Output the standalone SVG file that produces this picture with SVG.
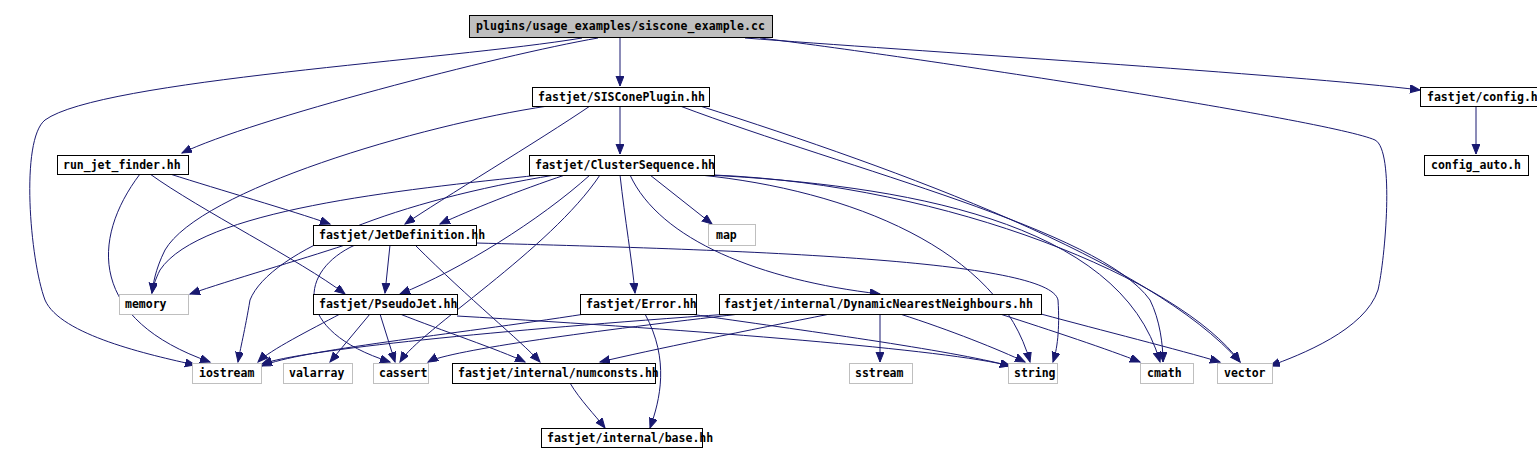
<svg xmlns="http://www.w3.org/2000/svg" width="1537" height="470" viewBox="0 0 1537 470">
<style>
.n rect{fill:#fff;stroke:#000;stroke-width:1}
.x rect{fill:#fff;stroke:#bfbfbf;stroke-width:1}
.root rect{fill:#bfbfbf;stroke:#000;stroke-width:1}
text{font-family:"DejaVu Sans Mono","Liberation Mono",monospace;font-weight:bold;font-size:11.5px;fill:#000}
#edges path{fill:none;stroke:#191970;stroke-width:1;marker-end:url(#ah)}
</style>
<defs>
<marker id="ah" markerUnits="userSpaceOnUse" markerWidth="12" markerHeight="10" refX="10" refY="4" orient="auto">
<path d="M0,0 L10,4 L0,8 Z" fill="#191970" stroke="#191970"/>
</marker>
</defs>
<rect width="1537" height="470" fill="#fff"/>
<g id="edges">
<path d="M582,38 C450,60 100,80 45,120 C20,140 30,260 45,300 C60,335 150,355 195,365"/>
<path d="M598,38 C500,55 250,120 182,153"/>
<path d="M620,38 L620,86"/>
<path d="M745,38 C900,50 1300,75 1420,90"/>
<path d="M760,38 C900,55 1330,120 1375,140 C1395,150 1385,260 1378,290 C1365,330 1300,355 1270,366"/>
<path d="M548,106 C420,125 200,190 165,250 C155,270 153,285 152,293"/>
<path d="M620,106 L620,154"/>
<path d="M590,106 C540,140 440,200 405,224"/>
<path d="M680,106 C850,170 1100,230 1150,300 C1160,320 1163,345 1163,362"/>
<path d="M700,106 C900,170 1150,260 1240,362"/>
<path d="M540,175 C400,190 200,210 160,270 C155,280 153,287 152,293"/>
<path d="M555,175 C400,200 270,250 250,300 C245,330 240,350 238,362"/>
<path d="M565,175 C520,190 470,210 440,224"/>
<path d="M590,175 C540,220 460,270 400,294"/>
<path d="M600,175 C550,250 420,330 400,362"/>
<path d="M620,175 C625,220 632,260 635,293"/>
<path d="M650,175 L712,224"/>
<path d="M630,175 C660,240 760,280 880,294"/>
<path d="M700,175 C850,190 1000,250 1030,362"/>
<path d="M708,175 C900,185 1120,220 1160,362"/>
<path d="M714,175 C950,185 1180,280 1240,362"/>
<path d="M140,174 C90,240 90,320 210,362"/>
<path d="M170,174 C220,190 290,210 330,224"/>
<path d="M150,174 C200,210 300,260 345,294"/>
<path d="M345,245 C300,260 230,280 190,294"/>
<path d="M390,245 L385,293"/>
<path d="M355,245 C300,270 290,330 390,362"/>
<path d="M415,245 C470,300 520,340 540,362"/>
<path d="M476,243 C750,250 1050,260 1058,300 C1060,330 1057,350 1053,362"/>
<path d="M340,314 C310,330 270,350 258,362"/>
<path d="M370,314 L330,362"/>
<path d="M380,314 L395,362"/>
<path d="M400,314 C440,330 500,350 525,362"/>
<path d="M457,316 C700,330 950,350 1010,366"/>
<path d="M585,314 C450,335 300,350 262,366"/>
<path d="M690,314 C800,330 950,350 1010,366"/>
<path d="M645,314 C670,360 660,400 650,428"/>
<path d="M730,314 C500,330 300,350 262,364"/>
<path d="M740,314 C600,330 450,350 428,362"/>
<path d="M830,314 C750,330 650,350 600,362"/>
<path d="M880,314 L880,362"/>
<path d="M900,314 C950,330 1000,350 1025,362"/>
<path d="M1000,314 C1050,330 1110,350 1140,362"/>
<path d="M1041,314 C1100,330 1180,350 1220,362"/>
<path d="M570,383 C580,400 595,415 605,428"/>
<path d="M1476,106 L1476,154"/>
</g>
<g id="root" class="root"><rect x="469.5" y="15.5" width="303" height="22"/><text x="476" y="30" textLength="289">plugins/usage_examples/siscone_example.cc</text></g>
<g id="sis" class="n"><rect x="532.5" y="87.5" width="177" height="19"/><text x="538" y="101" textLength="167">fastjet/SISConePlugin.hh</text></g>
<g id="config" class="n"><rect x="1420.5" y="87.5" width="130" height="19"/><text x="1427" y="101">fastjet/config.h</text></g>
<g id="configauto" class="n"><rect x="1424.5" y="155.5" width="104" height="20"/><text x="1431" y="169">config_auto.h</text></g>
<g id="runjet" class="n"><rect x="57.5" y="155.5" width="131" height="19"/><text x="63" y="169">run_jet_finder.hh</text></g>
<g id="cs" class="n"><rect x="529.5" y="155.5" width="185" height="20"/><text x="535" y="169">fastjet/ClusterSequence.hh</text></g>
<g id="jetdef" class="n"><rect x="313.5" y="225.5" width="163" height="20"/><text x="319" y="239">fastjet/JetDefinition.hh</text></g>
<g id="map" class="x"><rect x="708.5" y="224.5" width="47" height="21"/><text x="716" y="239">map</text></g>
<g id="memory" class="x"><rect x="119.5" y="294.5" width="69" height="20"/><text x="125" y="308">memory</text></g>
<g id="pseudojet" class="n"><rect x="313.5" y="294.5" width="144" height="20"/><text x="319" y="308">fastjet/PseudoJet.hh</text></g>
<g id="error" class="n"><rect x="580.5" y="294.5" width="116" height="20"/><text x="586" y="308">fastjet/Error.hh</text></g>
<g id="dnn" class="n"><rect x="719.5" y="294.5" width="322" height="20"/><text x="724" y="308" textLength="309">fastjet/internal/DynamicNearestNeighbours.hh</text></g>
<g id="iostream" class="x"><rect x="192.5" y="363.5" width="69" height="20"/><text x="199" y="377">iostream</text></g>
<g id="valarray" class="x"><rect x="283.5" y="363.5" width="69" height="20"/><text x="289" y="377">valarray</text></g>
<g id="cassert" class="x"><rect x="373.5" y="363.5" width="55" height="20"/><text x="379" y="377">cassert</text></g>
<g id="numconsts" class="n"><rect x="452.5" y="363.5" width="203" height="20"/><text x="458" y="377">fastjet/internal/numconsts.hh</text></g>
<g id="sstream" class="x"><rect x="849.5" y="363.5" width="63" height="20"/><text x="855" y="377">sstream</text></g>
<g id="string" class="x"><rect x="1008.5" y="363.5" width="49" height="20"/><text x="1014" y="377">string</text></g>
<g id="cmath" class="x"><rect x="1140.5" y="363.5" width="53" height="20"/><text x="1147" y="377">cmath</text></g>
<g id="vector" class="x"><rect x="1217.5" y="363.5" width="55" height="20"/><text x="1224" y="377">vector</text></g>
<g id="base" class="n"><rect x="541.5" y="428.5" width="161" height="19"/><text x="547" y="442">fastjet/internal/base.hh</text></g>
</svg>
